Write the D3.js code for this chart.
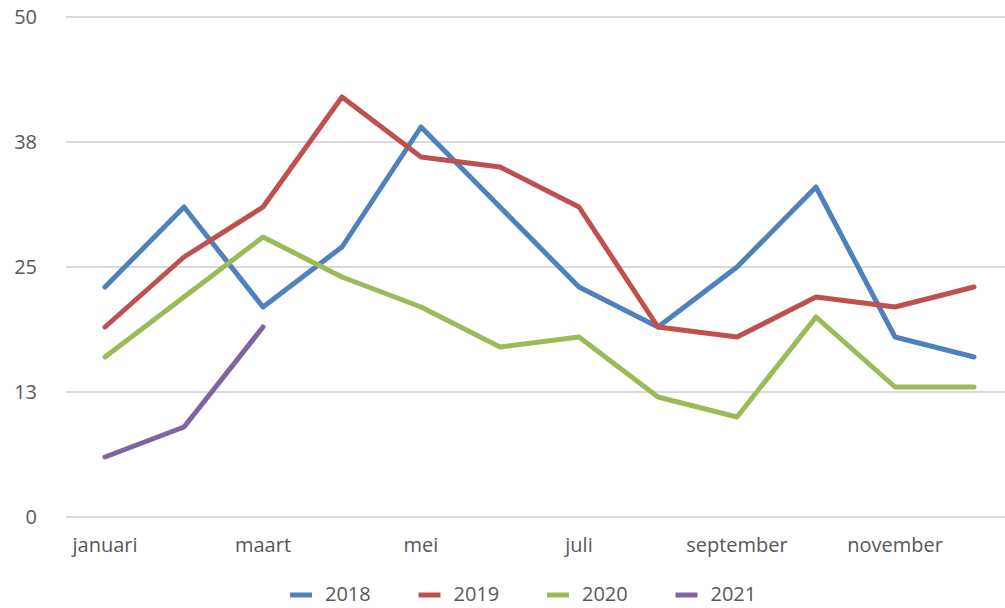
<!DOCTYPE html>
<html>
<head>
<meta charset="utf-8">
<style>
body { margin: 0; background: #fff; }
svg text { font-family: "Open Sans", sans-serif; font-size: 20px; fill: #595959; }
.grid line { stroke: #d9d9d9; stroke-width: 2; }
.serie { fill: none; stroke-width: 5; stroke-linejoin: round; stroke-linecap: round; }
</style>
<script src="https://cdn.jsdelivr.net/npm/d3@7"></script>
</head>
<body>
<svg width="1005" height="608"></svg>
<script>
// data
var maanden = ["januari", "februari", "maart", "april", "mei", "juni", "juli", "augustus", "september", "oktober", "november", "december"];
var jaren = ["2018", "2019", "2020", "2021"];
var v2018 = [23, 31, 21, 27, 39, 31, 23, 19, 25, 33, 18, 16];
var v2019 = [19, 26, 31, 42, 36, 35, 31, 19, 18, 22, 21, 23];
var v2020 = [16, 22, 28, 24, 21, 17, 18, 12, 10, 20, 13, 13];
var v2021 = [6, 9, 19];
var yTicks = [0, 12.5, 25, 37.5, 50];
var kleuren = ["#4f81bd", "#c0504d", "#9bbb59", "#8064a2"];

var reeksen = [v2018, v2019, v2020, v2021];

var svg = d3.select("svg");

var x = d3.scaleBand().domain(maanden).range([65.5, 1013.5]);
var y = d3.scaleLinear().domain([0, 50]).range([517, 17]);
var cx = function(m) { return x(m) + x.bandwidth() / 2; };

// gridlines
svg.append("g").attr("class", "grid")
  .selectAll("line").data(yTicks).enter().append("line")
  .attr("x1", 66).attr("x2", 1005)
  .attr("y1", function(d) { return y(d); })
  .attr("y2", function(d) { return y(d); });

// y labels
svg.append("g").selectAll("text").data(yTicks).enter().append("text")
  .attr("x", 37)
  .attr("y", function(d) { return y(d) + 7; })
  .attr("text-anchor", "end")
  .text(function(d) { return Math.round(d); });

// x labels (every other month)
svg.append("g").selectAll("text")
  .data(maanden.filter(function(m, i) { return i % 2 === 0; }))
  .enter().append("text")
  .attr("x", function(d) { return cx(d); })
  .attr("y", 552)
  .attr("text-anchor", "middle")
  .text(function(d) { return d; });

// lines
var lijn = d3.line()
  .x(function(d, i) { return cx(maanden[i]); })
  .y(function(d) { return y(d); });

svg.append("g").selectAll("path").data(reeksen).enter().append("path")
  .attr("class", "serie")
  .attr("stroke", function(d, i) { return kleuren[i]; })
  .attr("d", lijn);

// legend
var leg = svg.append("g").selectAll("g").data(jaren).enter().append("g")
  .attr("transform", function(d, i) { return "translate(" + (290 + i * 128.5) + ",595)"; });
leg.append("line")
  .attr("x1", 0).attr("x2", 22)
  .attr("stroke", function(d, i) { return kleuren[i]; })
  .attr("stroke-width", 5);
leg.append("text")
  .attr("x", 35).attr("y", 6)
  .text(function(d) { return d; });
</script>
</body>
</html>
